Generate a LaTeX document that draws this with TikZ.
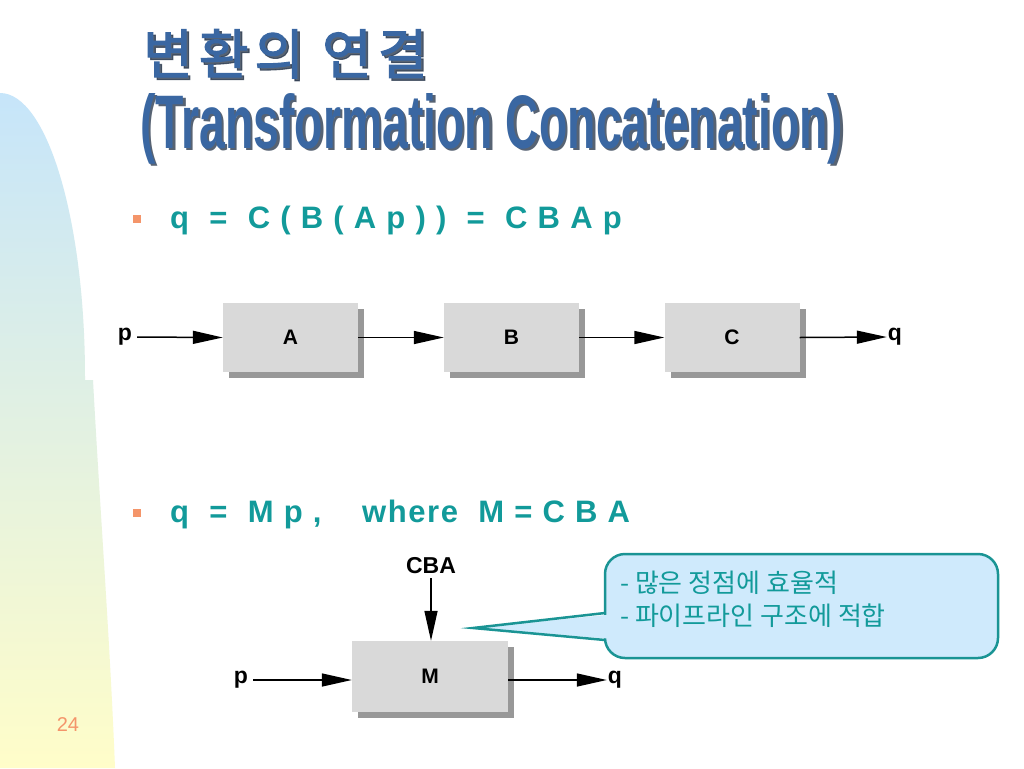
\documentclass[tikz,border=0pt]{standalone}
\usepackage{fontspec}
\setmainfont{Liberation Sans}
\newfontfamily\kr{Noto Sans CJK KR}
\newfontfamily\krtitle{Noto Sans CJK KR}[FakeBold=2,LetterSpace=11]
\newfontfamily\formfont{Liberation Sans}[LetterSpace=5]
\usetikzlibrary{arrows.meta,shadows}
\definecolor{titleblue}{HTML}{3A67A2}
\definecolor{titleshadow}{HTML}{2E3C50}
\definecolor{myteal}{HTML}{129A9A}
\definecolor{calloutline}{HTML}{1A9494}
\definecolor{calloutfill}{HTML}{CFEAFC}
\definecolor{boxgray}{HTML}{D9D9D9}
\definecolor{shadowgray}{HTML}{989898}
\definecolor{bulletorange}{HTML}{F4956A}
\definecolor{bgtop}{HTML}{C6E5FA}
\definecolor{bgbottom}{HTML}{FFFDC9}
\begin{document}
\begin{tikzpicture}[x=1pt,y=-1pt,
  box/.style={fill=boxgray, inner sep=0pt, minimum width=135pt, minimum height=69pt,
    font=\bfseries\fontsize{21}{24}\selectfont,
    drop shadow={shadow xshift=6pt, shadow yshift=-6pt, fill=shadowgray, opacity=1}},
  arr/.style={-{Triangle[length=30pt,width=13pt]}, line width=1.5pt},
  lbl/.style={font=\bfseries\fontsize{23}{26}\selectfont, inner sep=0pt},
  formula/.style={anchor=base west, inner sep=0pt, text=myteal, font=\formfont\bfseries\fontsize{31}{34}\selectfont},
  bullet/.style={fill=bulletorange, inner sep=0pt, minimum size=8pt},
  titlekr/.style={anchor=base west, inner sep=0pt, font=\krtitle\fontsize{54}{60}\selectfont},
]
\useasboundingbox (0,0) rectangle (1024,768);
\fill[white] (0,0) rectangle (1024,768);
% left background shape
\shade[top color=bgtop, bottom color=bgbottom]
  (0,93) .. controls (47,93) and (85,220) .. (85,377) -- (85,380) -- (93,380)
  .. controls (100,510) and (110,640) .. (115,768) -- (0,768) -- cycle;
% title
\node[titlekr, text=titleshadow, opacity=0.8] at (145.5,76.5) {변환의 연결};
\node[titlekr, text=titleblue] (title1) at (143,74) {변환의 연결};
\node[anchor=base west, inner sep=0pt, text=titleshadow, opacity=0.8] at (142.5,150.5) {\resizebox{703pt}{55pt}{\bfseries (Transformation Concatenation)}};
\node[anchor=base west, inner sep=0pt, text=titleblue] (title2) at (140,148) {\resizebox{703pt}{55pt}{\bfseries (Transformation Concatenation)}};
% bullets
\node[bullet] (b1) at (137,219) {};
\node[formula] (f1) at (170,228) {q \ = \ C ( B ( A p ) ) \ = \ C B A p};
\node[bullet] (b2) at (137,513) {};
\node[formula] (f2) at (170,522) {q \ = \ M p , \ \ \ where \ M = C B A};
% first chain
\node[lbl] (p1) at (125,337) {p};
\node[box] (A) at (290.5,337.5) {A};
\node[box] (B) at (511.5,337.5) {B};
\node[box] (C) at (732,337.5) {C};
\node[lbl] (q1) at (895,337) {q};
\draw[arr, shorten <=5pt] (p1.east) -- (A.west);
\draw[arr] (A.east) -- (B.west);
\draw[arr] (B.east) -- (C.west);
\draw[arr, shorten >=1pt] (C.east) -- (q1.west);
% second chain
\node[lbl] (p2) at (241,680) {p};
\node[box, minimum width=156pt, minimum height=71pt] (M) at (430,676.5) {M};
\node[lbl] (q2) at (615,680) {q};
\node[lbl] (cba) at (431,566) {CBA};
\draw[arr, shorten <=5pt] (p2.east) -- (M.west |- p2.east);
\draw[arr, shorten >=1pt] (M.east |- q2.west) -- (q2.west);
\draw[arr, shorten <=4pt] (cba.south) -- (cba.south |- M.north);
% callout
\coordinate (tip) at (473,628);
\draw[line width=2.5pt, draw=calloutline, fill=calloutfill, rounded corners=20pt]
  (605,554) rectangle (998,658);
\fill[calloutfill] (608,614.8) -- (tip) -- (608,638.6) -- cycle;
\draw[line width=2.5pt, draw=calloutline, line join=miter]
  (605,613) -- (tip) -- (605,640);
\node[anchor=base west, inner sep=0pt, align=left, text=myteal,
  font=\kr\fontsize{26}{33}\selectfont] (note) at (620,625)
  {- 많은 정점에 효율적\\- 파이프라인 구조에 적합};
% page number
\node[text=bulletorange, font=\fontsize{20}{22}\selectfont] (page) at (68,725) {24};
\end{tikzpicture}
\end{document}
